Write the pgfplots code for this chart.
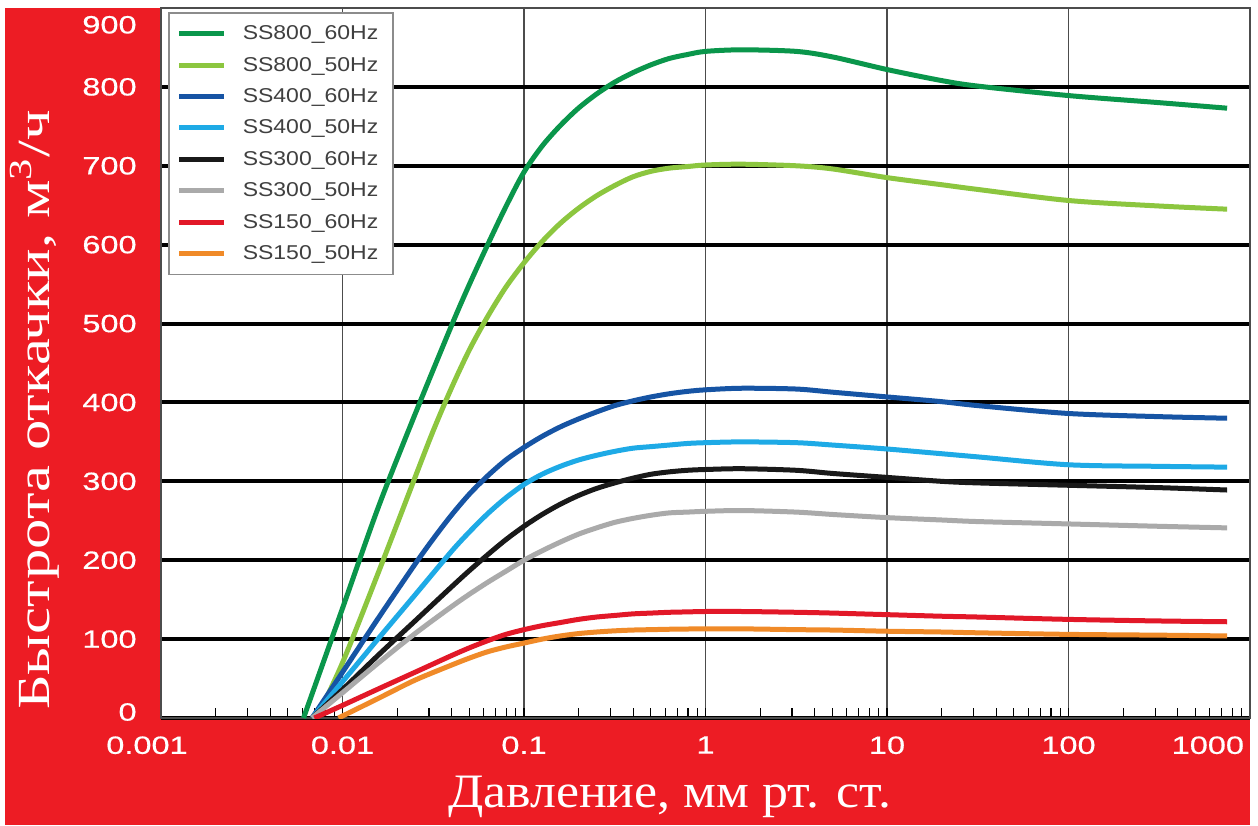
\documentclass[border=0pt]{standalone}
\usepackage{graphicx}
\usepackage{fontspec}
\setmainfont{Liberation Sans}
\newfontfamily\labelfont{Liberation Serif}
\newfontfamily\tickfont[FakeBold=0.5]{Liberation Sans}
\usepackage{pgfplots}
\pgfplotsset{compat=1.18}

\definecolor{bgred}{RGB}{237,28,36}
\definecolor{cgreen}{RGB}{10,150,75}
\definecolor{clgreen}{RGB}{140,198,63}
\definecolor{cblue}{RGB}{22,84,164}
\definecolor{clblue}{RGB}{30,170,230}
\definecolor{cblack}{RGB}{25,25,25}
\definecolor{cgray}{RGB}{170,170,170}
\definecolor{cred}{RGB}{226,24,40}
\definecolor{corange}{RGB}{240,138,40}

% stretch text horizontally like the original
\newcommand{\hs}[1]{\scalebox{1.3}[1]{#1}}
\newcommand{\legs}[1]{\scalebox{1.15}[1]{#1}}

\begin{document}
\begin{tikzpicture}
\useasboundingbox (-80.5pt,-53.5pt) rectangle (548.5pt,359pt);
\fill[bgred] (-78pt,-53.5pt) rectangle (544.5pt,355pt);
\begin{axis}[
    scale only axis,
    width=544.5pt, height=355pt,
    xmode=log,
    xmin=0.001, xmax=1000,
    ymin=0, ymax=900,
    axis background/.style={fill=white},
    axis line style={draw=black!70, line width=0.8pt},
    xtick={0.001,0.01,0.1,1,10,100,1000},
    xticklabels={\makebox[0pt]{\hspace*{-14pt}\hs{0.001}},\hs{0.01},\hs{0.1},\hs{1},\hs{10},\hs{100},\makebox[0pt][r]{\hs{1000}\hspace*{3pt}}},
    ytick={0,100,...,800},
    yticklabels={\smash{\raisebox{-1.3pt}{\hs{0}}},\hs{100},\hs{200},\hs{300},\hs{400},\hs{500},\hs{600},\hs{700},\hs{800}},
    extra y ticks={900},
    extra y tick labels={\smash{\raisebox{-12.7pt}{\hs{900}}}},
    extra y tick style={grid=none},
    ticklabel style={font=\tickfont\fontsize{12.5}{12.5}\selectfont, text=white},
    xticklabel style={anchor=north, inner sep=0pt, yshift=-9pt},
    yticklabel style={anchor=east, inner sep=0pt, xshift=-12pt},
    xmajorgrids, ymajorgrids,
    x grid style={draw=black!70, line width=0.8pt},
    y grid style={draw=black, line width=2pt},
    tick align=inside,
    xtick pos=left, ytick pos=left,
    major tick length=0pt,
    minor tick length=5pt,
    minor tick style={draw=black, line width=0.6pt},
    xlabel={\labelfont\scalebox{1.08}[1]{Давление, мм рт. ст.}},
    ylabel={\labelfont\scalebox{1.32}[1]{Быстрота откачки, м\textsuperscript{3}/ч}},
    xlabel style={at={(axis description cs:0.467,-0.111)}, anchor=center, text=white, font=\fontsize{24}{24}\selectfont},
    ylabel style={at={(axis description cs:-0.1157,0.4338)}, anchor=center, rotate=0, text=white, font=\fontsize{23}{23}\selectfont},
    every axis plot/.append style={line width=2.5pt, smooth},
    legend cell align=left,
    legend style={at={(axis description cs:0.0064,0.9944)}, anchor=north west,
        draw=black!45, line width=0.8pt, fill=white, text=black!75,
        font=\fontsize{10}{11}\selectfont,
        inner xsep=4pt, inner ysep=5.5pt, row sep=5.7pt,
        nodes={inner xsep=3.5pt, inner ysep=0pt, text height=8pt, text depth=2pt}},
    legend image code/.code={\draw[#1, line width=2.5pt] (1.5pt,0pt) -- (24pt,0pt); \path (28.5pt,0pt);},
]
% SS800 60 Hz
\addplot[cgreen] coordinates {
(0.0061,0) (0.01,139) (0.0158,268) (0.0251,385) (0.0398,497) (0.0501,550)
(0.0631,600) (0.0794,648) (0.1,692) (0.1259,725) (0.1585,751) (0.1995,773)
(0.2512,791) (0.3162,806) (0.3981,818) (0.5012,828) (0.631,836) (0.794,841)
(1,845) (1.585,847) (3.162,845) (5.012,838) (10,822) (20,808) (31.62,801)
(100,789) (316.2,780) (748,773)};
\addlegendentry{\legs{SS800\_60Hz}}
% SS800 50 Hz
\addplot[clgreen] coordinates {
(0.0072,0) (0.01,70) (0.0158,185) (0.0251,305) (0.0316,364) (0.0398,418)
(0.0501,467) (0.0631,509) (0.0794,546) (0.1,577) (0.1259,604) (0.1585,627)
(0.1995,646) (0.2512,662) (0.3162,675) (0.3981,686) (0.5012,693) (0.631,697)
(0.794,699) (1,701) (1.585,702) (3.162,700) (5.012,696) (10,685) (20,676)
(31.62,670) (100,656) (316.2,649) (748,645)};
\addlegendentry{\legs{SS800\_50Hz}}
% SS400 60 Hz
\addplot[cblue] coordinates {
(0.0068,0) (0.01,58) (0.0158,127) (0.0251,195) (0.0316,227) (0.0398,257)
(0.0501,284) (0.0631,307) (0.0794,327) (0.1,343) (0.1259,357) (0.1585,369)
(0.1995,379) (0.2512,388) (0.3162,396) (0.3981,402) (0.5012,407) (0.631,411)
(0.794,414) (1,416) (1.585,418) (3.162,417) (5.012,413) (10,407) (20,401)
(31.62,396) (100,386) (316.2,382) (748,380)};
\addlegendentry{\legs{SS400\_60Hz}}
% SS400 50 Hz
\addplot[clblue] coordinates {
(0.0068,0) (0.01,46) (0.0158,101) (0.0251,156) (0.0398,211) (0.0501,236)
(0.0631,259) (0.0794,279) (0.1,296) (0.1259,309) (0.1585,319) (0.1995,327)
(0.2512,333) (0.3162,338) (0.3981,342) (0.5012,344) (0.631,346) (0.794,348)
(1,349) (1.585,350) (3.162,349) (5.012,346) (10,341) (20,335) (31.62,331)
(100,321) (316.2,319) (748,318)};
\addlegendentry{\legs{SS400\_50Hz}}
% SS300 60 Hz
\addplot[cblack] coordinates {
(0.0068,0) (0.01,36) (0.0158,80) (0.0251,123) (0.0398,166) (0.0501,187)
(0.0631,207) (0.0794,226) (0.1,243) (0.1259,258) (0.1585,271) (0.1995,282)
(0.2512,291) (0.3162,298) (0.3981,304) (0.5012,309) (0.631,312) (0.794,314)
(1,315) (1.585,316) (3.162,314) (5.012,310) (10,305) (20,300) (31.62,298)
(100,295) (316.2,292) (748,289)};
\addlegendentry{\legs{SS300\_60Hz}}
% SS300 50 Hz
\addplot[cgray] coordinates {
(0.0068,0) (0.01,32) (0.0158,70) (0.0251,107) (0.0398,141) (0.0501,157)
(0.0631,172) (0.0794,186) (0.1,200) (0.1259,212) (0.1585,223) (0.1995,233)
(0.2512,241) (0.3162,248) (0.3981,253) (0.5012,257) (0.631,260) (0.794,261)
(1,262) (1.585,263) (3.162,261) (5.012,258) (10,254) (20,251) (31.62,249)
(100,246) (316.2,243) (748,241)};
\addlegendentry{\legs{SS300\_50Hz}}
% SS150 60 Hz
\addplot[cred] coordinates {
(0.007,0) (0.01,16) (0.0158,37) (0.0251,58) (0.0398,79) (0.0501,89)
(0.0631,98) (0.0794,106) (0.1,112) (0.1259,117) (0.1585,121) (0.1995,125)
(0.2512,128) (0.3162,130) (0.3981,132) (0.5012,133) (0.631,134) (0.794,134.5)
(1,135) (1.585,135) (3.162,134) (5.012,133) (10,131) (20,129) (31.62,128)
(100,125) (316.2,123) (748,122)};
\addlegendentry{\legs{SS150\_60Hz}}
% SS150 50 Hz
\addplot[corange] coordinates {
(0.0095,0) (0.0158,25) (0.0251,48) (0.0398,67) (0.0501,76)
(0.0631,84) (0.0794,90) (0.1,95) (0.1259,100) (0.1585,104) (0.1995,107)
(0.2512,109) (0.3162,110.5) (0.3981,111.5) (0.5012,112) (0.631,112.5) (0.794,112.8)
(1,113) (1.585,113) (3.162,112) (5.012,111.5) (10,110) (20,109) (31.62,108)
(100,106) (316.2,105) (748,104)};
\addlegendentry{\legs{SS150\_50Hz}}
\end{axis}
\end{tikzpicture}
\end{document}
